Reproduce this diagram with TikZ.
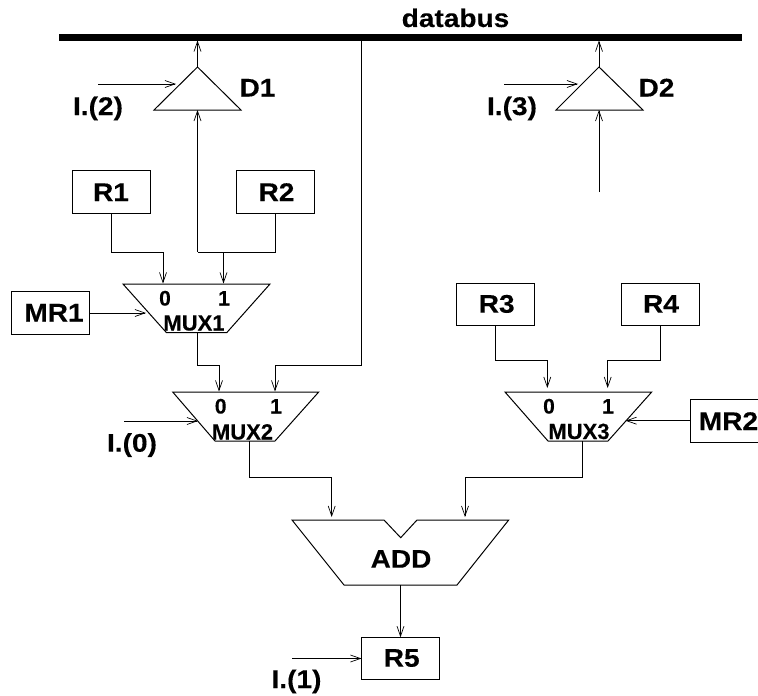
\documentclass[tikz,border=0pt]{standalone}
\usepackage{fontspec}
\setmainfont{Liberation Sans}
\newfontfamily\lab[FakeStretch=1.1,FakeBold=0.25]{Liberation Sans Bold}
\newfontfamily\labn[FakeBold=0.25]{Liberation Sans Bold}
\usetikzlibrary{arrows.meta}
\tikzset{
  wire/.style={draw=black,line width=0.9pt,line join=miter},
  arw/.style={wire,-{Straight Barb[length=10pt,width=7pt,line width=0.7pt]}},
  shp/.style={draw=black,line width=1pt,line join=miter,fill=white},
  regbox/.style={draw=black,line width=1pt,minimum width=78pt,minimum height=42.5pt,inner sep=0pt,outer sep=0pt},
  big/.style={font=\lab\fontsize{25.5}{25.5}\selectfont,inner sep=0pt,anchor=base},
  mid/.style={font=\labn\fontsize{22}{22}\selectfont,inner sep=0pt,anchor=base},
  small/.style={font=\labn\fontsize{21}{21}\selectfont,inner sep=0pt,anchor=base},
}
\begin{document}
\begin{tikzpicture}[x=1pt,y=-1pt]
\useasboundingbox (0,0) rectangle (758,696);
\clip (0,0) rectangle (758,696);

% bus
\coordinate (busL) at (59,37);
\coordinate (busR) at (742,37);
\draw[line width=7pt] (busL) -- (busR);
\node[big] (databus) at (455.5,27) {databus};
\coordinate (busD1) at (197.5,40.5);
\coordinate (busD2) at (599,40.5);
\coordinate (busTap) at (361.5,40.5);

% registers
\node[regbox] (R1) at (111,192) {};
\node[regbox] (R2) at (275,192) {};
\node[regbox] (MR1) at (50.5,313) {};
\node[regbox] (R3) at (495.5,304.5) {};
\node[regbox] (R4) at (660,304.5) {};
\node[regbox] (MR2) at (729,421) {};
\node[regbox] (R5) at (400.5,658.5) {};
\node[big] (tR1) at (111,201) {R1};
\node[big] (tR2) at (276.5,201) {R2};
\node[big] (tMR1) at (54,321.5) {MR1};
\node[big] (tR3) at (496.7,312.7) {R3};
\node[big] (tR4) at (661,312.7) {R4};
\node[big] (tMR2) at (728.5,430) {MR2};
\node[big] (tR5) at (401.7,666.7) {R5};

% drivers
\draw[shp] (197.5,67) coordinate (D1top) -- (241,110) -- (154,110) -- cycle;
\coordinate (D1in) at (197.5,110);
\coordinate (D1s) at (176,84);
\draw[shp] (599,67) coordinate (D2top) -- (643,110) -- (556,110) -- cycle;
\coordinate (D2in) at (599,110);
\coordinate (D2s) at (578,84);
\node[big] (tD1) at (257.5,96.5) {D1};
\node[big] (tD2) at (656.5,96.5) {D2};
\node[big] (tI2) at (98,115) {I.(2)};
\node[big] (tI3) at (512,115) {I.(3)};
\coordinate (I2s) at (98,84);
\coordinate (I3s) at (504,84);
\coordinate (D2src) at (599,192);

% muxes
\draw[shp] (123,284) -- (270,284) -- (226.7,332.7) -- (166.5,332.7) -- cycle;
\draw[shp] (172.7,392) -- (318.7,392) -- (275,441) -- (215,441) -- cycle;
\draw[shp] (505,392) -- (651.7,392) -- (608,441) -- (548,441) -- cycle;
\node[small] (m10) at (165,305.5) {0};
\node[small] (m11) at (224,305.5) {1};
\node[mid] (m1t) at (194,330.5) {MUX1};
\node[small] (m20) at (220.7,413.5) {0};
\node[small] (m21) at (276,413.5) {1};
\node[mid] (m2t) at (242.5,439.5) {MUX2};
\node[small] (m30) at (549,413.5) {0};
\node[small] (m31) at (608,413.5) {1};
\node[mid] (m3t) at (579,439) {MUX3};

% adder
\draw[shp] (292,520) -- (384,520) -- (400.7,537.7) -- (417,520) -- (508.7,520) -- (457,585) -- (344,585) -- cycle;
\node[big] (tADD) at (401,567.7) {ADD};
\coordinate (ADDout) at (400.5,585);

% control labels
\node[big] (tI0) at (132,451.7) {I.(0)};
\node[big] (tI1) at (296.5,688) {I.(1)};

% ports
\coordinate (m1a) at (163,283.5);
\coordinate (m1b) at (223.5,283.5);
\coordinate (m1c) at (146,313);
\coordinate (m1o) at (197.5,332.7);
\coordinate (m2a) at (219,391.5);
\coordinate (m2b) at (275,391.5);
\coordinate (m2c) at (198,421);
\coordinate (m2o) at (249,441);
\coordinate (m3a) at (547.3,388);
\coordinate (m3b) at (607.7,388);
\coordinate (m3c) at (625.5,420.7);
\coordinate (m3o) at (582,441);
\coordinate (ADDa) at (331.7,517);
\coordinate (ADDb) at (465,517);
\coordinate (I0s) at (124,421);
\coordinate (I1s) at (292,658.5);
\coordinate (jR2) at (223.5,252);
\coordinate (tapR) at (197.5,252);

% connectors
\draw[arw] (D1top) -- (busD1);
\draw[arw] (D2top) -- (busD2);
\draw[arw] (I2s) -- (D1s);
\draw[arw] (I3s) -- (D2s);
\draw[arw] (D2src) -- (D2in);
\draw[arw] (R1.south) |- (163,252) -- (m1a);
\draw[wire] (R2.south) |- (tapR);
\draw[arw] (tapR) -- (D1in);
\draw[arw] (jR2) -- (m1b);
\draw[arw] (MR1.east) -- (m1c);
\draw[arw] (m1o) |- (219,365) -- (m2a);
\draw[arw] (busTap) |- (275,365) -- (m2b);
\draw[arw] (I0s) -- (m2c);
\draw[arw] (R3.south) |- (547.3,360) -- (m3a);
\draw[arw] (R4.south) |- (607.7,360) -- (m3b);
\draw[arw] (MR2.west |- m3c) -- (m3c);
\draw[arw] (m2o) |- (331.7,477) -- (ADDa);
\draw[arw] (m3o) |- (465,477) -- (ADDb);
\draw[arw] (ADDout) -- (R5.north);
\draw[arw] (I1s) -- (R5.west);
\end{tikzpicture}
\end{document}
